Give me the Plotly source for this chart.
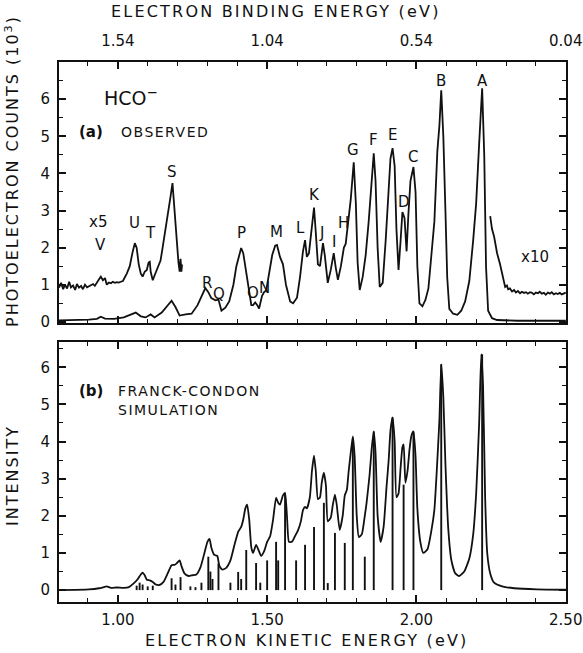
import plotly.graph_objects as go

# ---------------- data ----------------
# (a) observed spectrum, full scale
obs_ke = [0.803, 0.837, 0.87, 0.903, 0.93, 0.943, 0.957, 0.987, 1.02, 1.043, 1.06, 1.077, 1.093, 1.11,
          1.123, 1.147, 1.163, 1.18, 1.193, 1.207, 1.227, 1.247, 1.267, 1.283, 1.293, 1.303, 1.313,
          1.327, 1.337, 1.347, 1.36, 1.373, 1.387, 1.397, 1.407, 1.413, 1.42, 1.43, 1.44, 1.447,
          1.453, 1.46, 1.467, 1.473, 1.483, 1.49, 1.497, 1.507, 1.517, 1.527, 1.533, 1.543, 1.553,
          1.563, 1.577, 1.587, 1.6, 1.61, 1.62, 1.627, 1.633, 1.64, 1.647, 1.657, 1.663, 1.67, 1.677,
          1.687, 1.693, 1.703, 1.713, 1.723, 1.73, 1.737, 1.747, 1.757, 1.763, 1.77, 1.78, 1.79,
          1.797, 1.803, 1.81, 1.82, 1.83, 1.84, 1.85, 1.857, 1.863, 1.87, 1.877, 1.887, 1.897, 1.907,
          1.913, 1.92, 1.927, 1.933, 1.94, 1.947, 1.953, 1.96, 1.967, 1.973, 1.98, 1.99, 1.997,
          2.003, 2.01, 2.02, 2.03, 2.04, 2.05, 2.06, 2.07, 2.077, 2.083, 2.09, 2.097, 2.103, 2.11,
          2.123, 2.137, 2.15, 2.163, 2.177, 2.19, 2.2, 2.21, 2.22, 2.227, 2.233, 2.24, 2.253, 2.27,
          2.337, 2.42, 2.5]
obs_counts = [0.04, 0.05, 0.04, 0.06, 0.08, 0.14, 0.09, 0.08, 0.12, 0.2, 0.25, 0.15, 0.12, 0.2,
              0.12, 0.25, 0.4, 0.57, 0.4, 0.17, 0.2, 0.22, 0.45, 0.75, 0.91, 0.8, 0.64,
              0.58, 0.6, 0.3, 0.38, 0.55, 1.0, 1.5, 1.85, 1.99, 1.85, 1.3, 0.7, 0.45,
              0.45, 0.52, 0.45, 0.36, 0.7, 0.8, 0.85, 1.3, 1.8, 2.05, 2.07, 1.75, 1.55,
              1.0, 0.55, 0.5, 0.65, 1.2, 1.9, 2.2, 1.75, 1.85, 2.4, 3.08, 2.4, 1.55, 1.5,
              2.12, 1.8, 1.05, 1.4, 1.85, 1.45, 1.13, 1.5, 2.0, 2.1, 2.55, 3.3, 4.3,
              3.2, 1.6, 0.86, 1.21, 1.8, 2.7, 3.8, 4.54, 3.8, 2.0, 0.94, 1.05, 2.2, 3.5,
              4.4, 4.68, 4.2, 2.5, 1.4, 2.2, 2.96, 2.8, 1.9, 2.9, 3.8, 4.17, 3.5,
              1.5, 0.5, 0.42, 0.59, 0.9, 1.7, 2.7, 4.6, 5.3, 6.24, 5.0, 3.0, 1.2, 0.35,
              0.22, 0.19, 0.3, 0.55, 1.1, 2.2, 3.2, 4.8, 6.29, 4.5, 1.5, 0.3, 0.1, 0.05,
              0.03, 0.03, 0.03]

# (a) observed, x5 expanded segment (low kinetic energy)
x5_ke = [0.803, 0.81, 0.817, 0.823, 0.83, 0.837, 0.843, 0.85, 0.857, 0.863, 0.87, 0.877, 0.883,
         0.89, 0.897, 0.903, 0.91, 0.917, 0.923, 0.93, 0.937, 0.943, 0.95, 0.957, 0.963, 0.97,
         0.977, 0.983, 0.99, 0.997, 1.003, 1.01, 1.017, 1.03, 1.04, 1.05, 1.057, 1.063, 1.07,
         1.077, 1.083, 1.09, 1.097, 1.103, 1.107, 1.11, 1.117, 1.123, 1.13, 1.137, 1.143, 1.15,
         1.157, 1.163, 1.17, 1.177, 1.183, 1.187, 1.19, 1.193, 1.197, 1.2, 1.203, 1.207, 1.21,
         1.213, 1.215]
x5_counts = [0.92, 1.05, 0.88, 1.0, 0.9, 1.08, 0.93, 0.98, 0.86, 1.02, 0.92, 0.97, 0.88,
             1.0, 0.93, 0.96, 0.98, 1.02, 0.97, 1.08, 1.15, 1.22, 1.12, 1.18, 1.0, 1.06,
             1.04, 1.08, 1.05, 1.07, 1.06, 1.08, 1.1, 1.3, 1.5, 1.9, 2.12, 2.0, 1.55,
             1.3, 1.22, 1.35, 1.4, 1.6, 1.62, 1.35, 1.12, 1.25, 1.4, 1.5, 1.65, 2.0,
             2.4, 2.7, 3.0, 3.4, 3.74, 3.3, 2.9, 2.6, 2.2, 1.9, 1.6, 1.35, 1.7,
             1.35, 1.55]

# (a) observed, x10 expanded segment (high kinetic energy)
x10_ke = [2.247, 2.253, 2.26, 2.27, 2.28, 2.287, 2.293, 2.297, 2.303, 2.307, 2.313, 2.32, 2.327,
          2.333, 2.34, 2.347, 2.353, 2.36, 2.367, 2.373, 2.38, 2.387, 2.393, 2.4, 2.407, 2.413,
          2.42, 2.427, 2.433, 2.44, 2.447, 2.453, 2.46, 2.467, 2.473, 2.48, 2.487, 2.493, 2.5]
x10_counts = [2.85, 2.5, 2.3, 1.85, 1.55, 1.32, 1.1, 0.94, 0.98, 0.88, 0.9, 0.82, 0.86,
              0.79, 0.83, 0.77, 0.81, 0.78, 0.8, 0.76, 0.8, 0.78, 0.74, 0.79, 0.77, 0.81,
              0.76, 0.78, 0.73, 0.79, 0.76, 0.8, 0.74, 0.77, 0.75, 0.78, 0.74, 0.77, 0.79]

# (b) Franck-Condon simulation envelope
sim_ke = [0.803, 0.903, 0.937, 0.953, 0.963, 0.977, 0.997, 1.02, 1.037, 1.053, 1.067, 1.077, 1.083,
          1.09, 1.097, 1.107, 1.117, 1.127, 1.14, 1.153, 1.167, 1.18, 1.19, 1.197, 1.207, 1.213,
          1.223, 1.237, 1.25, 1.263, 1.277, 1.29, 1.3, 1.307, 1.313, 1.323, 1.333, 1.34, 1.35,
          1.363, 1.377, 1.39, 1.403, 1.413, 1.42, 1.427, 1.433, 1.44, 1.447, 1.453, 1.463, 1.47,
          1.48, 1.49, 1.5, 1.51, 1.52, 1.53, 1.537, 1.543, 1.553, 1.56, 1.567, 1.573, 1.583,
          1.593, 1.603, 1.613, 1.62, 1.627, 1.633, 1.643, 1.65, 1.657, 1.663, 1.67, 1.677, 1.683,
          1.69, 1.697, 1.703, 1.713, 1.72, 1.727, 1.733, 1.743, 1.753, 1.76, 1.767, 1.773, 1.78,
          1.787, 1.793, 1.8, 1.807, 1.817, 1.827, 1.833, 1.843, 1.85, 1.857, 1.863, 1.87, 1.88,
          1.89, 1.9, 1.907, 1.913, 1.92, 1.927, 1.933, 1.94, 1.947, 1.953, 1.957, 1.963, 1.97,
          1.977, 1.983, 1.99, 1.997, 2.003, 2.013, 2.023, 2.037, 2.05, 2.06, 2.07, 2.077, 2.083,
          2.09, 2.097, 2.107, 2.117, 2.13, 2.143, 2.16, 2.177, 2.19, 2.2, 2.21, 2.217, 2.223,
          2.23, 2.237, 2.247, 2.26, 2.287, 2.327, 2.403, 2.5]
sim_int = [0.0, 0.02, 0.05, 0.08, 0.1, 0.06, 0.07, 0.06, 0.08, 0.18, 0.3, 0.42, 0.47,
           0.4, 0.28, 0.26, 0.22, 0.15, 0.14, 0.22, 0.45, 0.67, 0.68, 0.72, 0.8, 0.65,
           0.45, 0.38, 0.4, 0.42, 0.62, 1.0, 1.3, 1.38, 1.15, 0.95, 0.92, 0.65, 0.55,
           0.6, 0.8, 1.2, 1.57, 1.7, 1.9, 2.2, 2.3, 1.9, 1.15, 1.0, 1.22, 1.1,
           0.92, 1.05, 1.3, 1.45, 1.9, 2.49, 2.35, 2.3, 2.55, 2.62, 1.9, 1.3, 1.3,
           1.45, 1.6, 1.85, 2.15, 2.24, 2.2, 2.5, 3.2, 3.62, 3.2, 2.45, 2.5, 2.9,
           3.16, 2.8, 1.85, 1.95, 2.3, 2.57, 2.3, 1.62, 2.0, 2.55, 2.7, 3.2, 3.7,
           4.14, 3.6, 2.0, 1.43, 1.5, 2.0, 2.35, 3.1, 3.8, 4.27, 3.7, 2.0, 1.3,
           1.7, 2.8, 3.5, 4.3, 4.65, 4.0, 2.5, 2.6, 3.3, 3.85, 3.92, 2.89, 3.2,
           3.8, 4.15, 4.27, 3.6, 2.2, 1.3, 1.0, 1.1, 1.6, 2.16, 3.5, 4.6, 6.08,
           5.2, 3.4, 1.6, 0.8, 0.45, 0.38, 0.5, 0.85, 1.5, 2.6, 4.5, 6.35, 5.5,
           2.5, 1.0, 0.45, 0.2, 0.1, 0.05, 0.02, 0.01]

# (b) individual Franck-Condon stick transitions
stick_ke = [1.063, 1.073, 1.083, 1.10, 1.117, 1.18, 1.193, 1.21, 1.243, 1.26, 1.28, 1.303, 1.31,
            1.317, 1.337, 1.377, 1.403, 1.413, 1.43, 1.463, 1.477, 1.50, 1.53, 1.537, 1.56,
            1.597, 1.627, 1.657, 1.69, 1.703, 1.727, 1.76, 1.787, 1.827, 1.857, 1.92, 1.957,
            1.99, 2.083, 2.22]
stick_int = [0.12, 0.2, 0.15, 0.1, 0.12, 0.32, 0.15, 0.35, 0.1, 0.08, 0.2, 0.9, 0.5,
             0.3, 0.72, 0.2, 0.49, 0.3, 1.08, 0.73, 0.2, 0.8, 1.3, 0.8, 2.6,
             0.8, 1.22, 1.7, 2.35, 0.19, 1.54, 1.27, 4.1, 0.9, 4.27, 4.65, 2.84,
             4.27, 6.08, 6.35]

# peak labels of the observed spectrum
peak_letters = ["A", "B", "C", "D", "E", "F", "G", "H", "I", "J", "K", "L", "M", "N", "O", "P",
                "Q", "R", "S", "T", "U", "V"]
peak_label_ke = [2.22, 2.083, 1.987, 1.957, 1.92, 1.857, 1.787, 1.757, 1.723, 1.683, 1.657, 1.613,
                 1.53, 1.49, 1.453, 1.413, 1.34, 1.297, 1.183, 1.11, 1.057, 0.943]
peak_label_y = [6.5, 6.5, 4.44, 3.23, 5.03, 4.89, 4.62, 2.66, 2.15, 2.39, 3.41, 2.53,
                2.42, 0.91, 0.78, 2.39, 0.75, 1.05, 4.03, 2.39, 2.66, 2.07]

# axis ticks
ke_ticks = [1.00, 1.50, 2.00, 2.50]
ke_ticktext = ["1.00", "1.50", "2.00", "2.50"]
be_ticktext = ["1.54", "1.04", "0.54", "0.04"]
count_ticks = [0, 1, 2, 3, 4, 5, 6]

# ---------------- figure ----------------
INK = "#111111"
FONT = "DejaVu Sans"

fig = go.Figure()
line_style = dict(color=INK, width=1.8)
fig.add_trace(go.Scatter(x=obs_ke, y=obs_counts, mode="lines", line=line_style,
                         xaxis="x", yaxis="y", hoverinfo="skip"))
fig.add_trace(go.Scatter(x=x5_ke, y=x5_counts, mode="lines", line=line_style,
                         xaxis="x", yaxis="y", hoverinfo="skip"))
fig.add_trace(go.Scatter(x=x10_ke, y=x10_counts, mode="lines", line=line_style,
                         xaxis="x", yaxis="y", hoverinfo="skip"))
fig.add_trace(go.Scatter(x=sim_ke, y=sim_int, mode="lines",
                         line=dict(color=INK, width=1.8, shape="spline", smoothing=0.5),
                         xaxis="x2", yaxis="y2", hoverinfo="skip"))
sx, sy = [], []
for k, h in zip(stick_ke, stick_int):
    sx += [k, k, None]
    sy += [0, h, None]
fig.add_trace(go.Scatter(x=sx, y=sy, mode="lines", line=dict(color=INK, width=1.9),
                         xaxis="x2", yaxis="y2", hoverinfo="skip"))

def spaced(t, ls=2):
    return f'<span style="letter-spacing:{ls}px">{t}</span>'

lab_font = dict(family=FONT, size=15, color=INK)
ann = []
for L, k, yv in zip(peak_letters, peak_label_ke, peak_label_y):
    ann.append(dict(x=k, y=yv, xref="x", yref="y", text=L, showarrow=False, font=lab_font))
ann += [
    dict(x=0.933, y=2.69, xref="x", yref="y", text="x5", showarrow=False, font=lab_font),
    dict(x=2.397, y=1.75, xref="x", yref="y", text="x10", showarrow=False, font=lab_font),
    dict(x=0.947, y=6.07, xref="x", yref="y", text="HCO<sup>−</sup>", showarrow=False,
         xanchor="left", font=dict(family=FONT, size=19, color=INK)),
    dict(x=0.863, y=5.11, xref="x", yref="y", text="<b>(a)</b>", showarrow=False,
         xanchor="left", font=dict(family=FONT, size=15, color=INK)),
    dict(x=1.003, y=5.11, xref="x", yref="y", text=spaced("OBSERVED", 1.5), showarrow=False,
         xanchor="left", font=dict(family=FONT, size=14, color=INK)),
    dict(x=0.863, y=5.35, xref="x2", yref="y2", text="<b>(b)</b>", showarrow=False,
         xanchor="left", font=dict(family=FONT, size=15, color=INK)),
    dict(x=0.993, y=5.35, xref="x2", yref="y2", text=spaced("FRANCK-CONDON", 1.5), showarrow=False,
         xanchor="left", font=dict(family=FONT, size=14, color=INK)),
    dict(x=0.993, y=4.86, xref="x2", yref="y2", text=spaced("SIMULATION", 1.5), showarrow=False,
         xanchor="left", font=dict(family=FONT, size=14, color=INK)),
    # axis titles
    dict(x=0.428, y=1.0926, xref="paper", yref="paper", xanchor="center", yanchor="middle",
         text=spaced("ELECTRON BINDING ENERGY (eV)", 2.2),
         showarrow=False, font=dict(family=FONT, size=16, color=INK)),
    dict(x=0.489, y=-0.072, xref="paper", yref="paper", xanchor="center", yanchor="middle",
         text=spaced("ELECTRON KINETIC ENERGY (eV)", 2.2),
         showarrow=False, font=dict(family=FONT, size=16, color=INK)),
    dict(x=-0.093, y=0.798, xref="paper", yref="paper", xanchor="center", yanchor="middle",
         text=spaced("PHOTOELECTRON COUNTS (10<sup>3</sup>)", 2.0),
         textangle=-90, showarrow=False, font=dict(family=FONT, size=16, color=INK)),
    dict(x=-0.093, y=0.235, xref="paper", yref="paper", xanchor="center", yanchor="middle",
         text=spaced("INTENSITY", 2.0),
         textangle=-90, showarrow=False, font=dict(family=FONT, size=16, color=INK)),
]

tickfont = dict(family=FONT, size=15, color=INK)
common_x = dict(range=[0.803, 2.5008], showline=True, linewidth=2, linecolor=INK, mirror="ticks",
                ticks="inside", ticklen=7, tickwidth=1.5, tickcolor=INK, automargin=False,
                minor=dict(ticks="inside", ticklen=4, tickwidth=1, tickcolor=INK, dtick=0.1, tick0=0.8),
                showgrid=False, zeroline=False, tickfont=tickfont, tickmode="array", tickvals=ke_ticks)
common_y = dict(showline=True, linewidth=2, linecolor=INK, mirror="ticks",
                ticks="inside", ticklen=7, tickwidth=1.5, tickcolor=INK, automargin=False,
                minor=dict(ticks="inside", ticklen=4, tickwidth=1, tickcolor=INK, dtick=0.5, tick0=0),
                showgrid=False, zeroline=False, tickfont=tickfont, tickmode="array", tickvals=count_ticks,
                ticklabelstandoff=4)

fig.update_layout(
    width=583, height=653,
    margin=dict(l=59, r=17, t=62, b=51, autoexpand=False),
    paper_bgcolor="white", plot_bgcolor="white",
    showlegend=False,
    xaxis=dict(common_x, domain=[0, 1], anchor="y", side="top", ticktext=be_ticktext, ticklabelstandoff=8),
    yaxis=dict(common_y, domain=[0.5167, 1], range=[-0.03, 7.0], anchor="x"),
    xaxis2=dict(common_x, domain=[0, 1], anchor="y2", side="bottom", ticktext=ke_ticktext, ticklabelstandoff=3),
    yaxis2=dict(common_y, domain=[0, 0.4815], range=[-0.32, 6.68], anchor="x2"),
    annotations=ann,
)

fig.write_html(
    "out.html",
    config={"displayModeBar": False},
    post_script="document.body.style.margin='0';document.body.style.overflow='hidden';",
)
